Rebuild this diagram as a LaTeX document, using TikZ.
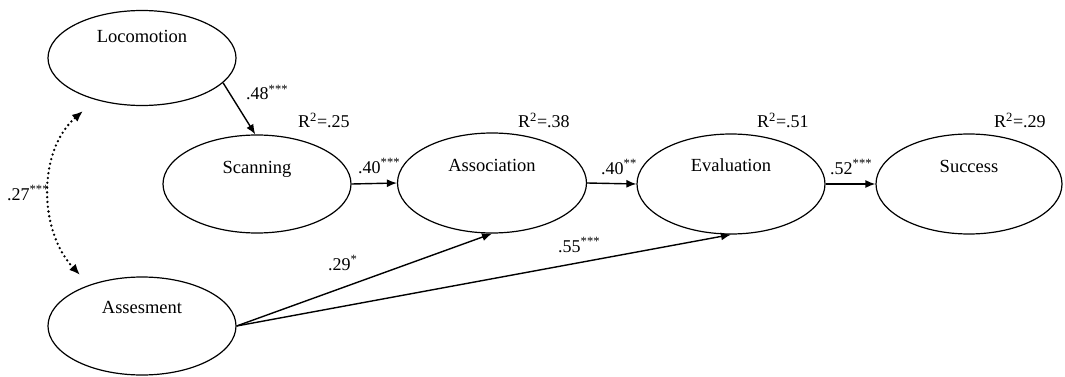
\documentclass[tikz,border=0pt]{standalone}
\usepackage{fontspec}
\setmainfont{Liberation Serif}
\usetikzlibrary{shapes.geometric,arrows.meta}
\tikzset{
  latent/.style={ellipse, draw, line width=1.2pt, inner sep=0pt, minimum width=188pt, minimum height=98pt},
  vname/.style={anchor=base, inner sep=0pt, font=\fontsize{18.5}{20}\selectfont},
  coef/.style={anchor=base west, inner sep=0pt, font=\fontsize{18}{20}\selectfont},
  path/.style={line width=1.4pt, -{Latex[length=10pt,width=8pt]}},
  corr/.style={line width=2.6pt, line cap=round, dash pattern=on 0pt off 4.8pt,
     {Latex[length=11pt,width=9pt]}-{Latex[length=11pt,width=9pt]}}
}
\newcommand{\sig}[1]{\textsuperscript{#1}}
\begin{document}
\begin{tikzpicture}[x=1pt,y=-1pt]
\useasboundingbox (0,0) rectangle (1065,377);
% latent variables
\node[latent, minimum height=95pt] (loc) at (142,58) {};
\node[latent] (scan) at (257,184) {};
\node[latent] (ases) at (142,326) {};
\node[latent, minimum width=189pt, minimum height=100pt] (assoc) at (492,183) {};
\node[latent, minimum height=100pt] (eval) at (731,184) {};
\node[latent, minimum width=186pt, minimum height=100pt] (succ) at (969,184) {};
% names
\node[vname] (tloc) at (142,43) {Locomotion};
\node[vname] (tscan) at (257,173) {Scanning};
\node[vname] (tases) at (142,313) {Assesment};
\node[vname] (tassoc) at (492,171) {Association};
\node[vname] (teval) at (731,171) {Evaluation};
\node[vname] (tsucc) at (969,172) {Success};
% paths
\draw[path] (loc.-17) -- (scan.92);
\draw[path] (scan.east) -- (assoc.west);
\draw[path] (assoc.east) -- (eval.west);
\draw[path] (eval.east) -- (succ.west);
\draw[path] (ases.east) -- (assoc.south);
\draw[path] (ases.east) -- (eval.south);
% correlation
\coordinate (ctop) at (83,111);
\coordinate (cbot) at (80,275);
\draw[corr] (cbot) .. controls (38,230) and (38,150) .. (ctop);
% coefficients
\node[coef] (c1) at (246,100) {.48\sig{***}};
\node[coef] (c2) at (358,173) {.40\sig{***}};
\node[coef] (c3) at (601,174) {.40\sig{**}};
\node[coef] (c4) at (830,174) {.52\sig{***}};
\node[coef] (c5) at (328,270) {.29\sig{*}};
\node[coef] (c6) at (558,252) {.55\sig{***}};
\node[coef] (c7) at (7,200) {.27\sig{***}};
% R squared
\node[coef] (r1) at (298,128) {R\sig{2}=.25};
\node[coef] (r2) at (518,128) {R\sig{2}=.38};
\node[coef] (r3) at (757,128) {R\sig{2}=.51};
\node[coef] (r4) at (994,128) {R\sig{2}=.29};
\end{tikzpicture}
\end{document}
